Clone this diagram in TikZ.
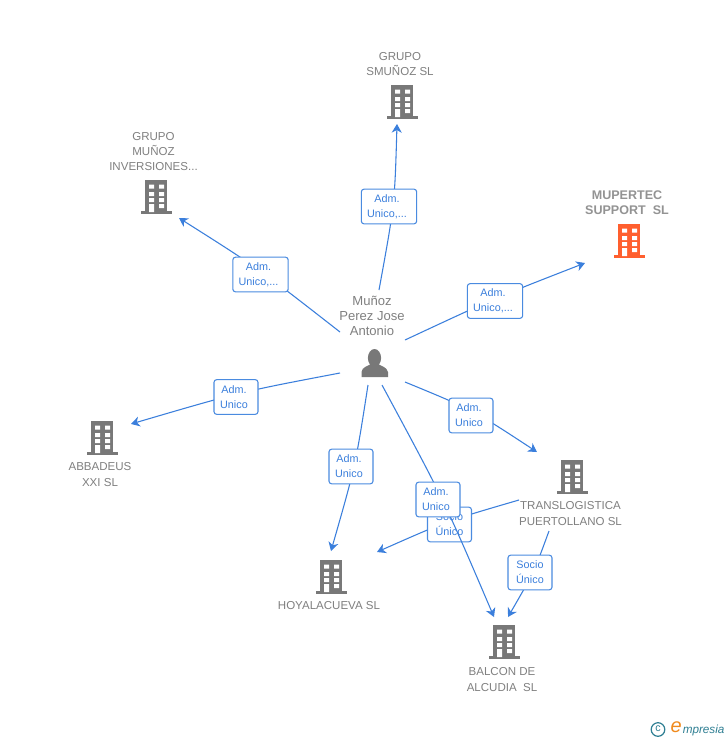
\documentclass[tikz,border=0pt]{standalone}
\usepackage{fontspec}
\setmainfont{Liberation Sans}
\definecolor{conn}{HTML}{3B7FDC}
\definecolor{boxedge}{HTML}{4A8BE0}
\definecolor{txt}{HTML}{808080}
\definecolor{bld}{HTML}{787878}
\definecolor{orng}{HTML}{FF5F2E}
\definecolor{teal}{HTML}{2F7F93}
\definecolor{eorange}{HTML}{F08A1D}
\newcommand{\tagline}{\kern3pt}
\tikzset{
  x=0.75pt,y=-0.75pt,
  connline/.style={draw=conn,line width=0.8pt,-{Stealth[length=6.5pt,width=7.5pt,inset=2pt]}},
  tagbox/.style={draw=boxedge,fill=white,rounded corners=2pt,line width=0.8pt,minimum width=33pt,minimum height=26pt,inner sep=0pt,align=center,text=conn,font=\fontsize{8.1}{11.3}\selectfont},
  name label/.style={text=txt,align=center,inner sep=0pt,font=\fontsize{8.65}{11.3}\selectfont},
  pics/office/.style={code={
    \fill[#1] (-11,-17) rectangle (11,15);
    \fill[#1] (-15.5,14) rectangle (15.5,17);
    \fill[white] (-7,-12.5) rectangle (-2,-8.5) (3,-12.5) rectangle (8,-8.5)
                 (-7,-5) rectangle (-2,-1) (3,-5) rectangle (8,-1)
                 (-7,1) rectangle (-2,5) (3,1) rectangle (8,5)
                 (-7,7) rectangle (-2,15) (3,7) rectangle (8,11);
  }}
}
\usetikzlibrary{arrows.meta}
\begin{document}
\begin{tikzpicture}
\useasboundingbox (0,0) rectangle (728,740);
\fill[white] (0,0) rectangle (728,740);

% buildings
\pic at (402,102) {office=bld};
\pic at (156,197) {office=bld};
\pic at (629,241) {office=orng};
\pic at (102,438) {office=bld};
\pic at (572,477) {office=bld};
\pic at (331,577) {office=bld};
\pic at (504,642) {office=bld};

% person
\fill[bld] (374.5,358) ellipse (6.6 and 9);
\fill[bld] (361.5,377) -- (361.5,372) .. controls (362,367) and (368,366) .. (371,364) -- (378,364) .. controls (381,366) and (387,367) .. (388,372) -- (388,377) -- cycle;

% names
\node[name label] (nSmunoz) at (400,64) {GRUPO\\SMUÑOZ SL};
\node[name label] (nMunoz) at (153.5,151.5) {GRUPO\\MUÑOZ\\INVERSIONES...};
\node[name label,font=\fontsize{9.4}{11.3}\selectfont\bfseries,text=txt!85!white] (nMupertec) at (627,202.5) {MUPERTEC\\SUPPORT\ \ SL};
\node[name label] (nAbba) at (100,474.5) {ABBADEUS\\XXI SL};
\node[name label] (nTrans) at (570.5,513.5) {TRANSLOGISTICA\\PUERTOLLANO SL};
\node[name label] (nHoya) at (329,606) {HOYALACUEVA SL};
\node[name label] (nBalcon) at (502,679.5) {BALCON DE\\ALCUDIA\ \ SL};
\node[name label,font=\fontsize{9.8}{11.3}\selectfont] (nPerson) at (372,316) {Muñoz\\Perez Jose\\Antonio};

% connector ends
\coordinate (s1) at (379,290); \coordinate (e1) at (397,124);
\coordinate (s2) at (340,332); \coordinate (e2) at (179,218);
\coordinate (s3) at (405,340); \coordinate (e3) at (585,263);
\coordinate (s4) at (340,373); \coordinate (e4) at (131,424);
\coordinate (s5) at (405,382); \coordinate (e5) at (537,452);
\coordinate (s6) at (368,385); \coordinate (e6) at (331,551);
\coordinate (s7) at (382,385); \coordinate (e7) at (494,617);
\coordinate (s8) at (519,500); \coordinate (e8) at (377,552);
\coordinate (s9) at (549,531); \coordinate (e9) at (508,617);

\draw[connline] (s1) .. controls (394.7,204) .. (e1);
\draw[connline] (s2) .. controls (258,268) .. (e2);
\draw[connline] (s3) .. controls (495,298) .. (e3);
\draw[connline] (s4) .. controls (240,392) .. (e4);
\draw[connline] (s5) .. controls (473,410) .. (e5);
\draw[connline] (s6) .. controls (355.5,465.5) .. (e6);
\draw[connline] (s8) .. controls (447,521) .. (e8);
\draw[connline] (s9) .. controls (534,572) .. (e9);

\node[tagbox] (t8) at (449.5,524.5) {Socio\\Único};
\draw[connline] (s7) .. controls (444,500) .. (e7);

\node[tagbox,minimum width=41.5pt] (t1) at (389,206.5) {Adm.\tagline\\Unico,...\tagline};
\node[tagbox,minimum width=41.5pt] (t2) at (260.5,274.5) {Adm.\tagline\\Unico,...\tagline};
\node[tagbox,minimum width=41.5pt] (t3) at (495,301) {Adm.\tagline\\Unico,...\tagline};
\node[tagbox] (t4) at (236,397) {Adm.\tagline\\Unico\tagline};
\node[tagbox] (t5) at (471,415.5) {Adm.\tagline\\Unico\tagline};
\node[tagbox] (t6) at (351,466.5) {Adm.\tagline\\Unico\tagline};
\node[tagbox] (t7) at (438,499.5) {Adm.\tagline\\Unico\tagline};
\node[tagbox] (t9) at (530,572.5) {Socio\\Único};

% logo
\draw[teal,line width=0.9pt] (658,729.5) circle (6.8);
\node[inner sep=0pt,text=teal,font=\fontsize{8}{8}\selectfont] (logoC) at (658,729) {c};
\node[inner sep=0pt,anchor=east,text=eorange,font=\fontsize{15}{15}\selectfont\itshape] (logoE) at (682,727.5) {e};
\node[inner sep=0pt,anchor=west,text=teal,font=\fontsize{8.8}{10}\selectfont\itshape] (logoT) at (682.5,730) {mpresia};
\end{tikzpicture}
\end{document}
